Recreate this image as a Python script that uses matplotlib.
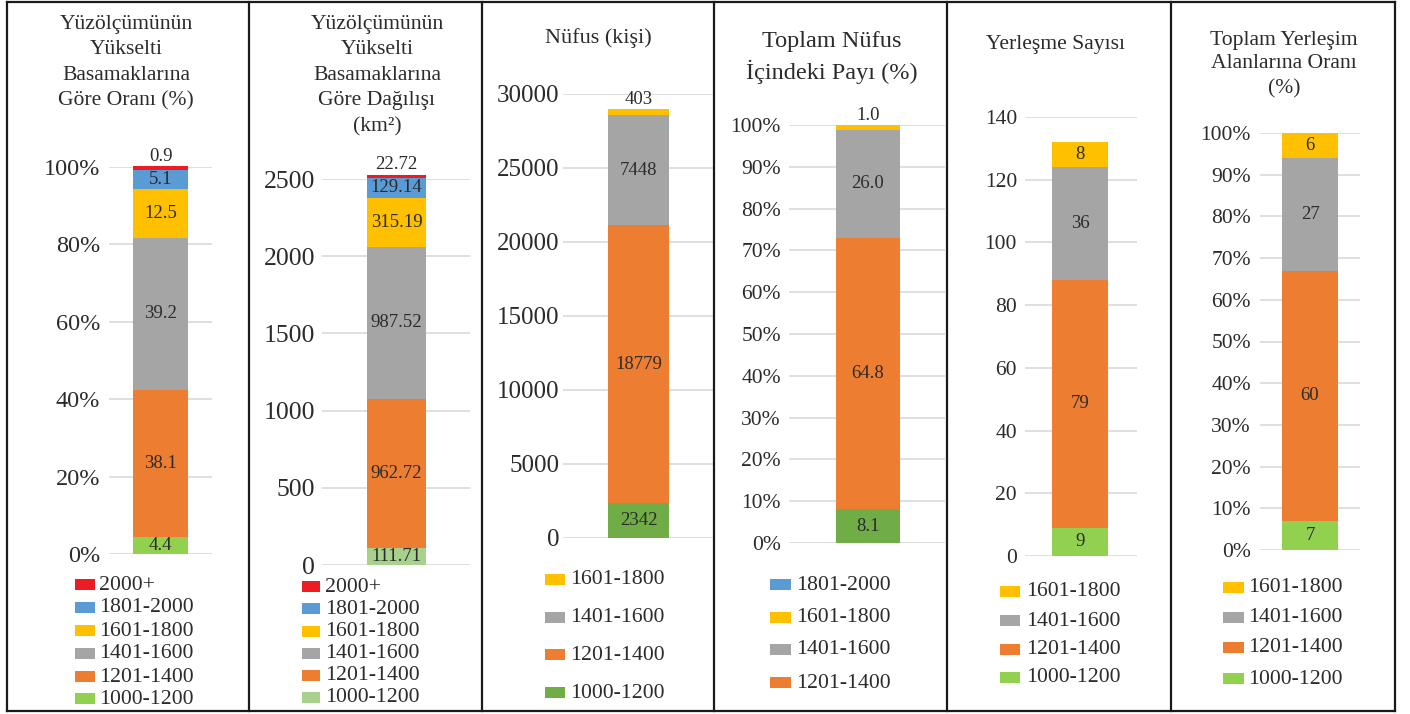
import matplotlib
matplotlib.use('Agg')
import matplotlib.pyplot as plt
from matplotlib.patches import Rectangle
from matplotlib.lines import Line2D

plt.rcParams['font.family'] = ['Liberation Serif', 'DejaVu Serif']

# --- data (bottom segment first) ---
classes6 = ['1000-1200', '1201-1400', '1401-1600', '1601-1800', '1801-2000', '2000+']
classes4 = ['1000-1200', '1201-1400', '1401-1600', '1601-1800']

area_pct = [4.4, 38.1, 39.2, 12.5, 5.1, 0.9]
area_km2 = [111.71, 962.72, 987.52, 315.19, 129.14, 22.72]
pop = [2342, 18779, 7448, 403]
pop_pct = [8.1, 64.8, 26.0, 1.0]
settle_n = [9, 79, 36, 8]
settle_pct = [7, 60, 27, 6]

legend_area = ['2000+', '1801-2000', '1601-1800', '1401-1600', '1201-1400', '1000-1200']
legend_pop = ['1601-1800', '1401-1600', '1201-1400', '1000-1200']
legend_pop_pct = ['1801-2000', '1601-1800', '1401-1600', '1201-1400']
legend_settle = ['1601-1800', '1401-1600', '1201-1400', '1000-1200']

titles = [
    ['Yüzölçümünün', 'Yükselti', 'Basamaklarına', 'Göre Oranı (%)'],
    ['Yüzölçümünün', 'Yükselti', 'Basamaklarına', 'Göre Dağılışı', '(km²)'],
    ['Nüfus (kişi)'],
    ['Toplam Nüfus', 'İçindeki Payı (%)'],
    ['Yerleşme Sayısı'],
    ['Toplam Yerleşim', 'Alanlarına Oranı', '(%)'],
]

base_colors = {'1201-1400': '#ED7D31', '1401-1600': '#A5A5A5', '1601-1800': '#FFC000',
               '1801-2000': '#5B9BD5', '2000+': '#ED1C24'}
TXT = '#2b2b2b'

W, H = 1410, 714
fig = plt.figure(figsize=(W / 100, H / 100), dpi=100)


def fx(x):
    return x / W


def fy(y):
    return 1 - y / H


def panel(vals, cls, fmt, ymax, step, pct, green, box, bar, tick_fs, pad,
          title, tx, ty, tfs, legend, leg_y, leg_x):
    cols = dict(base_colors)
    cols['1000-1200'] = green
    x0, x1, yz, yt = box
    ax = fig.add_axes([fx(x0), fy(yz), (x1 - x0) / W, (yz - yt) / H])
    bc, bw = bar
    ax.set_xlim(-(bc - x0) / bw, (x1 - bc) / bw)
    ax.set_ylim(0, ymax)
    bottom = 0
    for v, c in zip(vals, cls):
        ax.bar(0, v, width=1.0, bottom=bottom, color=cols[c], clip_on=False, zorder=3)
        s = fmt.format(v)
        if v / ymax < 0.025:
            ax.annotate(s, (0, bottom + v), xytext=(0, 1), textcoords='offset points',
                        ha='center', va='bottom', fontsize=13.5, color=TXT,
                        annotation_clip=False)
        else:
            ax.text(0, bottom + v / 2, s, ha='center', va='center',
                    fontsize=13.5, color=TXT, zorder=4)
        bottom += v
    ticks = list(range(0, ymax + 1, step))
    ax.set_yticks(ticks)
    ax.set_yticklabels([f'{t}%' if pct else str(t) for t in ticks])
    ax.tick_params(axis='y', length=0, pad=pad, labelsize=tick_fs, labelcolor=TXT)
    ax.set_xticks([])
    ax.yaxis.grid(True, color='#D9D9D9', lw=1.2)
    ax.set_axisbelow(True)
    for sp in ax.spines.values():
        sp.set_visible(False)
    for line, y in zip(title, ty):
        fig.text(fx(tx), fy(y), line, ha='center', va='center', fontsize=tfs, color=TXT)
    px0, px1, tx0 = leg_x
    for lab, y in zip(legend, leg_y):
        fig.add_artist(Rectangle((fx(px0), fy(y + 5.5)), (px1 - px0) / W, 11 / H,
                                 transform=fig.transFigure, color=cols[lab], lw=0))
        fig.text(fx(tx0), fy(y + 1), lab, ha='left', va='center', fontsize=15.7, color=TXT)


panel(area_pct, classes6, '{:.1f}', 100, 20, True, '#92D050',
      (109, 212, 554, 167), (160.5, 55), 17.5, 6.5,
      titles[0], 126, [24, 50, 75, 101], 15.6,
      legend_area, [584, 607, 630, 653, 676, 698], (75, 95, 99))
panel(area_km2, classes6, '{:.2f}', 2500, 500, False, '#A9D18E',
      (322, 470, 565, 179), (396.5, 59), 18.5, 5,
      titles[1], 377, [24, 50, 75, 101, 127], 15.6,
      legend_area, [586, 608, 631, 653, 675, 697], (302, 320, 325))
panel(pop, classes4, '{:d}', 30000, 5000, False, '#70AD47',
      (563, 713, 538, 94), (638.5, 61), 18, 2.5,
      titles[2], 598, [38], 16,
      legend_pop, [579, 617, 654, 692], (545, 565, 570))
panel(pop_pct, classes4, '{:.1f}', 100, 10, True, '#70AD47',
      (789, 945, 543, 125), (868, 64), 15.5, 5.8,
      titles[3], 832, [42, 72], 17.5,
      legend_pop_pct, [584, 617, 649, 682], (770, 791, 796))
panel(settle_n, classes4, '{:d}', 140, 20, False, '#92D050',
      (1025, 1137, 556, 117), (1080, 56), 15.5, 5.8,
      titles[4], 1056, [45], 15.6,
      legend_settle, [591, 620, 649, 677], (1000, 1020, 1026))
panel(settle_pct, classes4, '{:d}', 100, 10, True, '#92D050',
      (1260, 1360, 550, 133), (1310, 56), 15.5, 6.5,
      titles[5], 1284, [40, 64, 89], 15.6,
      legend_settle, [587, 617, 647, 678], (1223, 1244, 1248))

# table borders
for x in [7, 249, 482, 714, 947, 1171, 1395]:
    fig.add_artist(Line2D([fx(x), fx(x)], [fy(2), fy(711)], transform=fig.transFigure,
                          color='#1a1a1a', lw=1.6))
for y in [2, 711]:
    fig.add_artist(Line2D([fx(7), fx(1395)], [fy(y), fy(y)], transform=fig.transFigure,
                          color='#1a1a1a', lw=1.6))

fig.savefig('out.png', dpi=100, facecolor='white')
